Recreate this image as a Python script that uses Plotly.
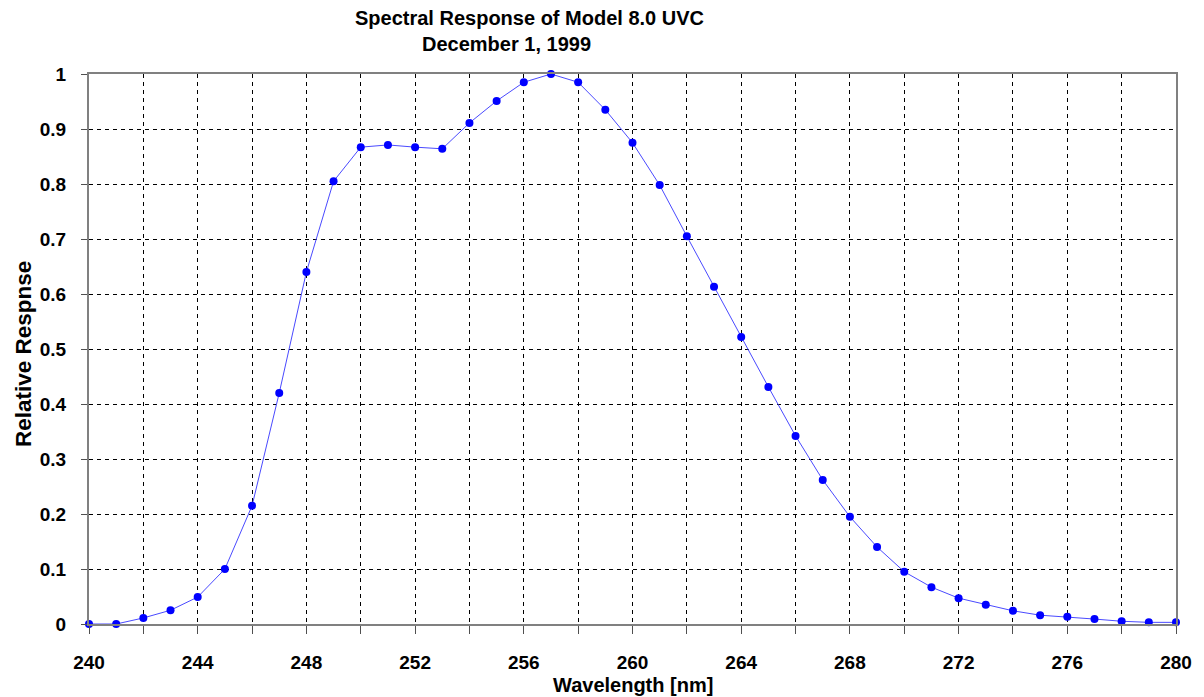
import plotly.graph_objects as go

wavelength = list(range(240, 281))
response = [0.0, 0.0, 0.011, 0.025, 0.049, 0.10, 0.215, 0.42, 0.64, 0.805,
            0.867, 0.871, 0.867, 0.864, 0.911, 0.951, 0.985, 1.0, 0.985, 0.935,
            0.875, 0.798, 0.705, 0.613, 0.522, 0.431, 0.342, 0.262, 0.195, 0.14,
            0.095, 0.067, 0.047, 0.035, 0.024, 0.016, 0.013, 0.009, 0.005, 0.003,
            0.003]

x_tickvals = list(range(240, 281, 2))
x_ticktext = [str(v) if (v - 240) % 4 == 0 else "" for v in x_tickvals]
y_tickvals = [i / 10 for i in range(11)]
y_ticktext = ["0", "0.1", "0.2", "0.3", "0.4", "0.5", "0.6", "0.7", "0.8", "0.9", "1"]

title_line1 = "Spectral Response of Model 8.0 UVC"
title_line2 = "December 1, 1999"
x_title = "Wavelength [nm]"
y_title = "Relative Respnse"

font_family = "Liberation Sans, Arial, sans-serif"

fig = go.Figure()
fig.add_trace(go.Scatter(
    x=wavelength, y=response, mode="lines+markers",
    line=dict(color="#4a4aff", width=1),
    marker=dict(color="#0000ff", size=8, symbol="circle"),
    cliponaxis=False, showlegend=False,
))

fig.update_layout(
    width=1204, height=697,
    margin=dict(l=89, r=23, t=74, b=73),
    paper_bgcolor="white", plot_bgcolor="white",
    font=dict(family=font_family, color="black"),
    annotations=[
        dict(text="<b>" + title_line1 + "</b>", x=0.405, y=1,
             xref="paper", yref="paper", yshift=56, showarrow=False,
             font=dict(size=20, family=font_family), xanchor="center", yanchor="middle"),
        dict(text="<b>" + title_line2 + "</b>", x=0.384, y=1,
             xref="paper", yref="paper", yshift=30, showarrow=False,
             font=dict(size=20, family=font_family), xanchor="center", yanchor="middle"),
        dict(text="<b>" + x_title + "</b>", x=0.5, y=0,
             xref="paper", yref="paper", yshift=-61, showarrow=False,
             font=dict(size=20, family=font_family), xanchor="center", yanchor="middle"),
        dict(text="<b>" + y_title + "</b>", x=0, y=0.5,
             xref="paper", yref="paper", xshift=-66, yshift=-5, showarrow=False, textangle=-90,
             font=dict(size=22.5, family=font_family), xanchor="center", yanchor="middle"),
    ],
)
fig.update_xaxes(
    range=[240, 280], tickmode="array", tickvals=x_tickvals, ticktext=x_ticktext,
    showgrid=True, gridcolor="black", gridwidth=1, griddash="4px,4px",
    showline=True, linecolor="#808080", linewidth=2, mirror=True,
    ticks="outside", ticklen=8, tickcolor="#505050", ticklabelstandoff=12,
    tickfont=dict(size=19, family=font_family, weight="bold"),
    zeroline=False,
)
fig.update_yaxes(
    range=[0, 1], tickmode="array", tickvals=y_tickvals, ticktext=y_ticktext,
    showgrid=True, gridcolor="black", gridwidth=1, griddash="4px,4px",
    showline=True, linecolor="#808080", linewidth=2, mirror=True,
    ticks="outside", ticklen=6, tickcolor="#505050", ticklabelstandoff=11,
    tickfont=dict(size=19, family=font_family, weight="bold"),
    zeroline=False,
)

fig.write_html("out.html", config={"displayModeBar": False},
               post_script="document.body.style.margin='0';document.body.style.overflow='hidden';")
